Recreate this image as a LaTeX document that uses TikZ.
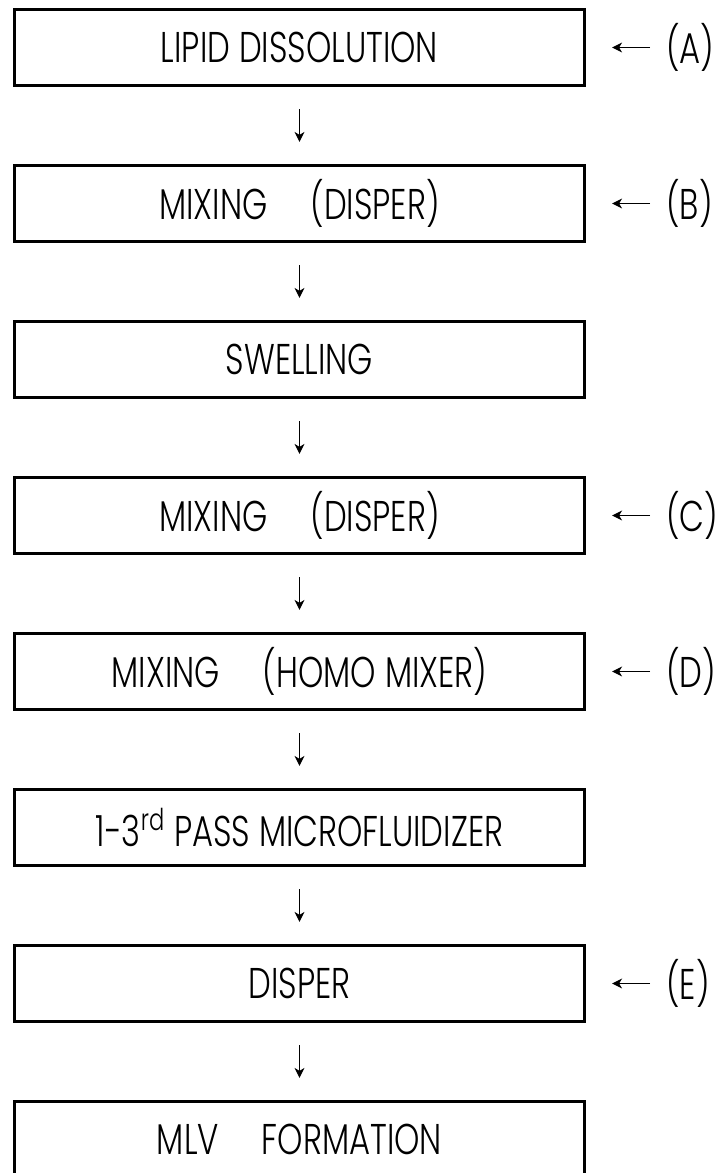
\documentclass[tikz,border=0pt]{standalone}
\usepackage{fontspec}
\setmainfont{Poppins}[UprightFont=* Light,FakeStretch=0.75]
\usepackage{tikz}
\usetikzlibrary{arrows.meta,positioning,calc}

\tikzset{
  stagebox/.style={draw,line width=1.6pt,minimum width=285pt,minimum height=38pt,
    inner sep=0pt,font=\fontsize{21.5}{24}\selectfont},
  sidelbl/.style={inner sep=0pt,anchor=west,font=\fontsize{21.5}{24}\selectfont},
  flowarr/.style={line width=0.6pt,-{Stealth[length=5pt,width=5pt,inset=1.5pt]},
    shorten <=11pt,shorten >=11pt},
  sidearr/.style={line width=0.6pt,-{Stealth[length=5pt,width=5pt,inset=1.5pt]},
    shorten <=8pt,shorten >=13pt}
}

\begin{document}
\begin{tikzpicture}[x=0.5pt,y=-0.5pt]
\clip (0,0) rectangle (726,1173);

\node (lipid) at (299.5,47.5) [stagebox] {LIPID DISSOLUTION};
\node (mixB) at (299.5,203.5) [stagebox] {MIXING\quad(DISPER)};
\node (swell) at (299.5,359.5) [stagebox] {SWELLING};
\node (mixC) at (299.5,515.5) [stagebox] {MIXING\quad(DISPER)};
\node (mixD) at (299.5,671.5) [stagebox] {MIXING\quad(HOMO MIXER)};
\node (micro) at (299.5,827.5) [stagebox] {1-3\textsuperscript{rd} PASS MICROFLUIDIZER};
\node (disp) at (299.5,983.5) [stagebox] {DISPER};
\node (mlv) at (299.5,1139.5) [stagebox] {MLV\quad FORMATION};

\node (lblA) at (666,47.5) [sidelbl] {(A)};
\node (lblB) at (666,203.5) [sidelbl] {(B)};
\node (lblC) at (666,515.5) [sidelbl] {(C)};
\node (lblD) at (666,671.5) [sidelbl] {(D)};
\node (lblE) at (666,983.5) [sidelbl] {(E)};

% flow
\draw[flowarr] (lipid) -- (mixB);
\draw[flowarr] (mixB) -- (swell);
\draw[flowarr] (swell) -- (mixC);
\draw[flowarr] (mixC) -- (mixD);
\draw[flowarr] (mixD) -- (micro);
\draw[flowarr] (micro) -- (disp);
\draw[flowarr] (disp) -- (mlv);

% additions
\draw[sidearr] (lblA.west) -- (lipid.east);
\draw[sidearr] (lblB.west) -- (mixB.east);
\draw[sidearr] (lblC.west) -- (mixC.east);
\draw[sidearr] (lblD.west) -- (mixD.east);
\draw[sidearr] (lblE.west) -- (disp.east);

\end{tikzpicture}
\end{document}
